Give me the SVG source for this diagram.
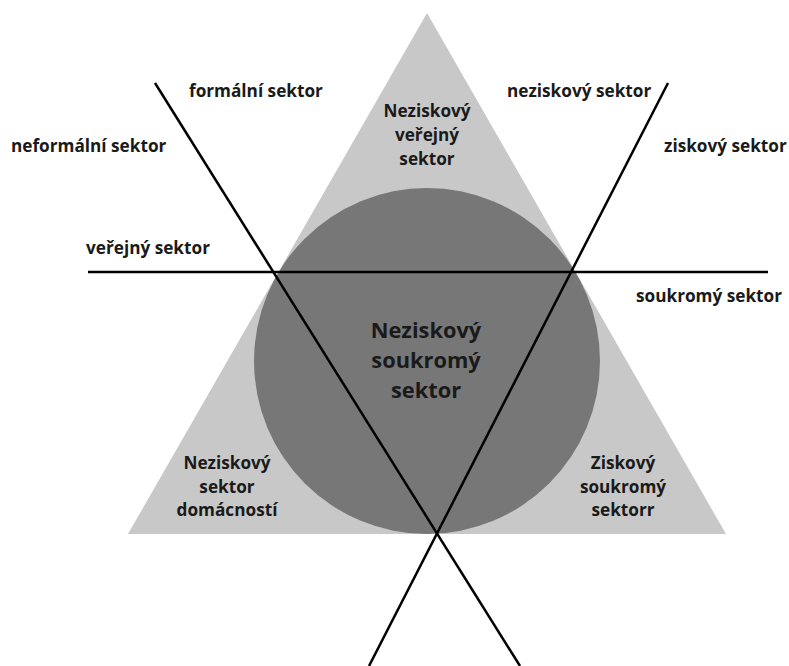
<svg xmlns="http://www.w3.org/2000/svg" width="789" height="666" viewBox="0 0 789 666">
<style>
text{font-family:"Open Sans","Noto Sans","Liberation Sans",sans-serif;font-weight:700;fill:#1a1a1a;font-size:17.2px}
.c{text-anchor:middle}
.big{font-size:21.8px}
.ln{stroke:#000;stroke-width:2.5;fill:none}
</style>
<rect width="789" height="666" fill="#fff"/>
<g id="triangle"><polygon points="427,13 726,534 128,534" fill="#c8c8c8"/></g>
<g id="circle"><circle cx="427" cy="361" r="173" fill="#777"/></g>
<g id="connectors">
<line class="ln" x1="88" y1="272" x2="768" y2="272"/>
<line class="ln" x1="155" y1="83" x2="520" y2="666"/>
<line class="ln" x1="668" y1="83" x2="369" y2="666"/>
</g>
<g id="label-formalni"><text x="189" y="97">formální sektor</text></g>
<g id="label-neformalni"><text x="11" y="152">neformální sektor</text></g>
<g id="label-verejny"><text x="86" y="254">veřejný sektor</text></g>
<g id="label-neziskovy"><text x="507" y="97">neziskový sektor</text></g>
<g id="label-ziskovy"><text x="664" y="152">ziskový sektor</text></g>
<g id="label-soukromy"><text x="636" y="302">soukromý sektor</text></g>
<g id="node-top"><text class="c" x="427" y="117">Neziskový</text><text class="c" x="427" y="141">veřejný</text><text class="c" x="427" y="165">sektor</text></g>
<g id="node-center"><text class="c big" x="426" y="338">Neziskový</text><text class="c big" x="426" y="368">soukromý</text><text class="c big" x="426" y="398">sektor</text></g>
<g id="node-left"><text class="c" x="227" y="469">Neziskový</text><text class="c" x="227" y="493">sektor</text><text class="c" x="227" y="516">domácností</text></g>
<g id="node-right"><text class="c" x="623" y="469">Ziskový</text><text class="c" x="623" y="493">soukromý</text><text class="c" x="623" y="516">sektorr</text></g>
</svg>
